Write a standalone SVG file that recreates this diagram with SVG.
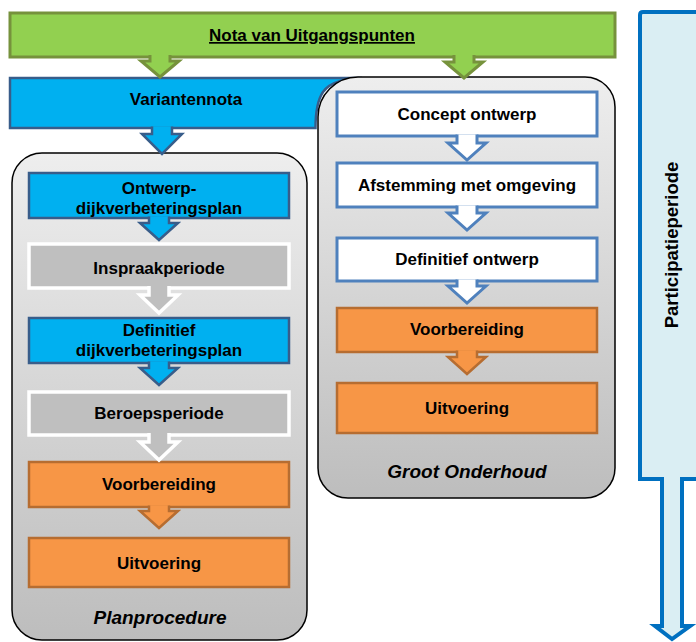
<svg xmlns="http://www.w3.org/2000/svg" width="696" height="642" viewBox="0 0 696 642">
<defs>
<linearGradient id="cont" x1="0" y1="0" x2="0" y2="1">
<stop offset="0" stop-color="#EEEEEE"/>
<stop offset="1" stop-color="#BDBDBD"/>
</linearGradient>
</defs>
<style>
text{font-family:"Liberation Sans",Arial,sans-serif;font-weight:bold;font-size:17px;fill:#000;text-anchor:middle}
.it{font-style:italic;font-size:19px}
.cont{fill:url(#cont);stroke:#000;stroke-width:1.5}
.blue{fill:#00B0F0;stroke:#385D8A;stroke-width:2.5}
.gray{fill:#BFBFBF;stroke:#FFFFFF;stroke-width:3.5}
.org{fill:#F79646;stroke:#B66D31;stroke-width:2.5}
.wht{fill:#FFFFFF;stroke:#4F81BD;stroke-width:3}
.grn{fill:#92D050;stroke:#76923C;stroke-width:3}
.ag{fill:#92D050;stroke:#76923C;stroke-width:3}
.ab{fill:#00B0F0;stroke:#385D8A;stroke-width:2.5}
.aw{fill:#BFBFBF;stroke:#FFFFFF;stroke-width:3.5}
.ao{fill:#F79646;stroke:#B66D31;stroke-width:2.5}
.av{fill:#FFFFFF;stroke:#4F81BD;stroke-width:3}
</style>
<rect width="696" height="642" fill="#FFFFFF"/>

<g id="participatieperiode">
<path d="M640,15 Q640,12 643,12 H706 V479 H682 V626 H690 L672,639 L655,626 H662 V479 H640 Z" fill="#DAEEF3" stroke="#0070C0" stroke-width="4" stroke-linejoin="miter"/>
<text transform="translate(678,245) rotate(-90)" style="font-size:18.5px">Participatieperiode</text>
</g>

<g id="nota">
<rect class="grn" x="10" y="13" width="605" height="44"/>
<text x="312" y="41" text-decoration="underline">Nota van Uitgangspunten</text>
</g>

<g id="variantennota">
<path class="blue" d="M10,78 H362 C346,79 331,81 323,92 C317,101 315.5,114 315.5,128 H10 Z"/>
<text x="186" y="105">Variantennota</text>
</g>

<g id="planprocedure">
<rect class="cont" x="12" y="153" width="295" height="487" rx="30"/>
<text class="it" x="160" y="624">Planprocedure</text>
</g>

<g id="groot-onderhoud">
<path class="cont" d="M358,77 H585 A30,30 0 0 1 615,107 V468 A30,30 0 0 1 585,498 H348 A30,30 0 0 1 318,468 V117 A40,40 0 0 1 358,77 Z"/>
<text class="it" x="467" y="478">Groot Onderhoud</text>
</g>

<g id="ontwerp-dvp">
<rect class="blue" x="29" y="173" width="260" height="45"/>
<text x="159" y="194">Ontwerp-</text>
<text x="159" y="214">dijkverbeteringsplan</text>
</g>
<g id="inspraakperiode">
<rect class="gray" x="29" y="244" width="260" height="44"/>
<text x="159" y="274" fill="#262626">Inspraakperiode</text>
</g>
<g id="definitief-dvp">
<rect class="blue" x="29" y="318" width="260" height="45"/>
<text x="159" y="336">Definitief</text>
<text x="159" y="356">dijkverbeteringsplan</text>
</g>
<g id="beroepsperiode">
<rect class="gray" x="29" y="392" width="260" height="43"/>
<text x="159" y="419" fill="#262626">Beroepsperiode</text>
</g>
<g id="voorbereiding-l">
<rect class="org" x="29" y="462" width="260" height="45"/>
<text x="159" y="490">Voorbereiding</text>
</g>
<g id="uitvoering-l">
<rect class="org" x="29" y="538" width="260" height="49"/>
<text x="159" y="569">Uitvoering</text>
</g>

<g id="concept-ontwerp">
<rect class="wht" x="337" y="92" width="260" height="44"/>
<text x="467" y="120">Concept ontwerp</text>
</g>
<g id="afstemming">
<rect class="wht" x="337" y="163" width="260" height="44"/>
<text x="467" y="191">Afstemming met omgeving</text>
</g>
<g id="definitief-ontwerp">
<rect class="wht" x="337" y="238" width="260" height="43"/>
<text x="467" y="265">Definitief ontwerp</text>
</g>
<g id="voorbereiding-r">
<rect class="org" x="337" y="308" width="260" height="44"/>
<text x="467" y="335">Voorbereiding</text>
</g>
<g id="uitvoering-r">
<rect class="org" x="337" y="383" width="260" height="50"/>
<text x="467" y="414">Uitvoering</text>
</g>

<g id="connectors" stroke-linejoin="miter">
<path class="ag" d="M150,55 V61 H141 L160,77 L179,61 H170 V55"/>
<path class="ag" d="M454,55 V62 H445 L464,78 L483,62 H474 V55"/>
<path class="ab" d="M152,126.5 V134 H142 L162,154 L182,134 H172 V126.5"/>
<path class="ab" d="M149,216.5 V223 H140 L159,240 L178,223 H169 V216.5"/>
<path class="aw" d="M149,286 V295 H140 L159,313 L178,295 H169 V286"/>
<path class="ab" d="M149,361.5 V368 H140 L159,385 L178,368 H169 V361.5"/>
<path class="aw" d="M149,433 V442 H140 L159,460 L178,442 H169 V433"/>
<path class="ao" d="M149,505.5 V511 H140 L159,528 L178,511 H169 V505.5"/>
<path class="av" d="M457,134.5 V143 H448 L467,160 L486,143 H477 V134.5"/>
<path class="av" d="M457,205.5 V213 H448 L467,230 L486,213 H477 V205.5"/>
<path class="av" d="M457,279.5 V286 H448 L467,303 L486,286 H477 V279.5"/>
<path class="ao" d="M457,350.5 V357 H448 L467,374 L486,357 H477 V350.5"/>
</g>
</svg>
